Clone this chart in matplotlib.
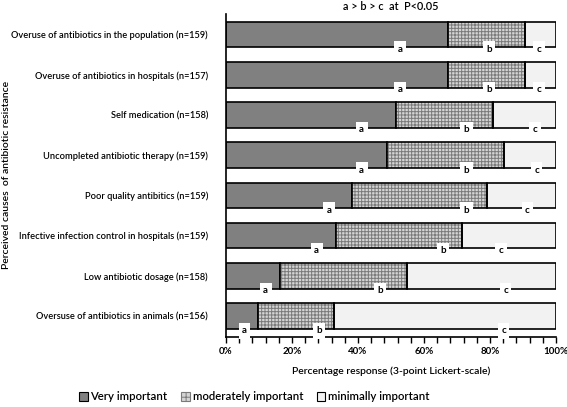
import matplotlib
matplotlib.use("Agg")
import matplotlib.pyplot as plt
from matplotlib.patches import Patch
import numpy as np

categories = [
    "Overuse of antibiotics in the population (n=159)",
    "Overuse of antibiotics in hospitals (n=157)",
    "Self medication (n=158)",
    "Uncompleted antibiotic therapy (n=159)",
    "Poor quality antibitics (n=159)",
    "Infective infection control in hospitals (n=159)",
    "Low antibiotic dosage (n=158)",
    "Oversuse of antibiotics in animals (n=156)",
]
very = [67.4, 67.4, 51.4, 48.9, 38.1, 33.4, 16.4, 9.7]
moderate = [23.2, 23.2, 29.6, 35.3, 41.1, 38.2, 38.5, 23.0]
minimal = [9.4, 9.4, 19.0, 15.8, 20.8, 28.4, 45.1, 67.3]
series_names = ["Very important", "moderately important", "minimally important"]
letters = ["a", "b", "c"]
label_pos_a = [52.7, 52.7, 41.1, 41.1, 31.2, 27.5, 12.0, 5.6]
label_pos_b = [79.7, 79.7, 72.9, 72.9, 72.9, 65.7, 46.7, 28.2]
label_pos_c = [94.8, 94.8, 93.6, 94.1, 91.3, 83.3, 84.7, 84.1]

FONT = ["Lato", "DejaVu Sans"]
plt.rcParams['font.family'] = FONT
plt.rcParams['hatch.linewidth'] = 0.7
W = "semibold"

fig = plt.figure(figsize=(5.67, 4.07), dpi=100)
ax = fig.add_axes([226/567, 70/407, 330/567, 323/407])

y = np.arange(len(categories))
h = 0.637
very = np.array(very); moderate = np.array(moderate); minimal = np.array(minimal)

ax.barh(y, very, height=h, color="#808080", edgecolor="black", linewidth=1.2, zorder=2)
ax.barh(y, moderate, left=very, height=h, color="#d4d4d4", edgecolor="#7a7a7a",
        hatch="+++++", linewidth=0, zorder=2)
ax.barh(y, moderate, left=very, height=h, fill=False, edgecolor="black", linewidth=1.2, zorder=3)
ax.barh(y, minimal, left=very + moderate, height=h, color="#f2f2f2", edgecolor="black",
        linewidth=1.2, zorder=2)

for pos_list, letter in zip([label_pos_a, label_pos_b, label_pos_c], letters):
    for i, xp in enumerate(pos_list):
        ax.text(xp, i + h / 2 + 0.05, letter, ha="center", va="center", fontsize=7,
                fontweight="bold", zorder=5,
                bbox=dict(boxstyle="square,pad=0.35", facecolor="white", edgecolor="none"))

ax.set_xlim(0, 100)
ax.set_ylim(len(categories) - 1 + 0.52, -0.51)
ax.set_yticks(y)
ax.set_yticklabels(categories, fontsize=6.7, fontweight=W)
ax.tick_params(axis="y", length=0, pad=13)
ax.set_xticks(np.arange(0, 101, 20))
ax.set_xticklabels([f"{v}%" for v in range(0, 101, 20)], fontsize=7, fontweight="bold")
ax.set_xticks(np.arange(0, 101, 4), minor=True)
ax.tick_params(axis="x", which="both", direction="out", length=4, width=1, pad=3)
for s in ["top", "right"]:
    ax.spines[s].set_visible(False)
ax.spines["left"].set_linewidth(1.2)
ax.spines["bottom"].set_linewidth(1.2)

ax.set_xlabel("Percentage response (3-point Lickert-scale)", fontsize=7.5, labelpad=8,
              fontweight=W)
fig.text(391/567, 1 - 7/407, "a > b > c  at  P<0.05", ha="center", va="center",
         fontsize=7.8, fontweight=W)
fig.text(7/567, 1 - 175/407, "Perceived causes  of antibiotic resistance", rotation=90,
         ha="center", va="center", fontsize=7.5, fontweight=W)

handles = [
    Patch(facecolor="#808080", edgecolor="black", linewidth=0.8),
    Patch(facecolor="#d4d4d4", edgecolor="#7a7a7a", hatch="+++", linewidth=0.8),
    Patch(facecolor="#f2f2f2", edgecolor="black", linewidth=0.8),
]
leg = fig.legend(handles, series_names, loc="center left", bbox_to_anchor=(79/567, 1 - 397/407),
           ncol=3, frameon=False, fontsize=8.2, handlelength=0.75, handleheight=0.75,
           handletextpad=0.25, columnspacing=1.2, borderaxespad=0, borderpad=0)
for t in leg.get_texts():
    t.set_fontweight(W)

fig.savefig("out.png", dpi=100)
